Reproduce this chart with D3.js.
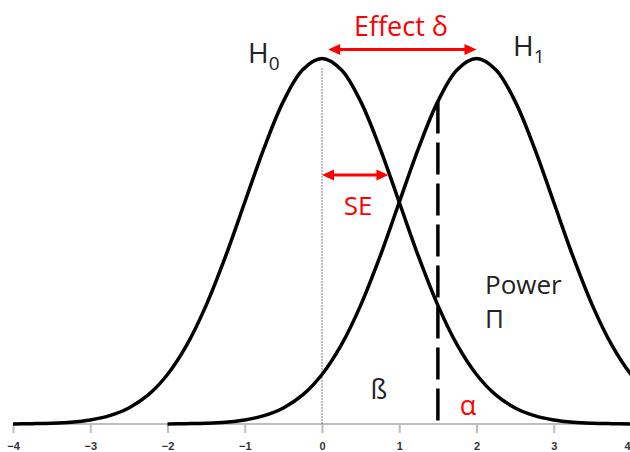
<!DOCTYPE html>
<html>
<head>
<meta charset="utf-8">
<title>Power</title>
<script src="https://d3js.org/d3.v7.min.js"></script>
<style>
  body { margin: 0; background: #fff; }
  svg { display: block; }
</style>
</head>
<body>
<div id="chart"></div>
<script>
// x positions (step 0.25) and curve heights
var xsH0 = [-4, -3.75, -3.5, -3.25, -3, -2.75, -2.5, -2.25, -2, -1.75, -1.5, -1.25, -1, -0.75, -0.5, -0.25,
            0, 0.25, 0.5, 0.75, 1, 1.25, 1.5, 1.75, 2, 2.25, 2.5, 2.75, 3, 3.25, 3.5, 3.75, 4];
var h0 = [0.0001, 0.0004, 0.0009, 0.0020, 0.0044, 0.0091, 0.0175, 0.0317, 0.0540, 0.0863, 0.1295, 0.1826, 0.2420, 0.3011, 0.3521, 0.3867,
          0.3989, 0.3867, 0.3521, 0.3011, 0.2420, 0.1826, 0.1295, 0.0863, 0.0540, 0.0317, 0.0175, 0.0091, 0.0044, 0.0020, 0.0009, 0.0004, 0.0001];
var xsH1 = [-2, -1.75, -1.5, -1.25, -1, -0.75, -0.5, -0.25, 0, 0.25, 0.5, 0.75, 1, 1.25, 1.5, 1.75,
            2, 2.25, 2.5, 2.75, 3, 3.25, 3.5, 3.75, 4, 4.25];
var h1 = [0.0001, 0.0004, 0.0009, 0.0020, 0.0044, 0.0091, 0.0175, 0.0317, 0.0540, 0.0863, 0.1295, 0.1826, 0.2420, 0.3011, 0.3521, 0.3867,
          0.3989, 0.3867, 0.3521, 0.3011, 0.2420, 0.1826, 0.1295, 0.0863, 0.0540, 0.0317];
var ticks = [-4, -3, -2, -1, 0, 1, 2, 3, 4];
var critical = 1.5;   // alpha cut-off
var effect = [0.08, 2];
var se = [0, 0.86];

var width = 630, height = 452;
var svg = d3.select("#chart").append("svg")
  .attr("width", width)
  .attr("height", height);

var x = d3.scaleLinear().domain([-4, 4]).range([13, 631]);
var y = d3.scaleLinear().domain([0, 0.3989]).range([424, 58.5]);

// axis
var xAxis = d3.axisBottom(x).tickValues(ticks).tickSize(9).tickPadding(9);
var gx = svg.append("g")
  .attr("transform", "translate(0,424)")
  .call(xAxis);
gx.select(".domain").attr("stroke", "#bdbdbd").attr("stroke-width", 2)
  .attr("d", "M" + x(-4) + ",0H" + width);
gx.selectAll(".tick line").attr("stroke", "#bdbdbd").attr("stroke-width", 2);
gx.selectAll(".tick text")
  .attr("fill", "#333")
  .style("font-family", "'Liberation Sans', Arial, sans-serif")
  .style("font-weight", "bold")
  .style("font-size", "11px");
// last label sits at the window edge, keep it inside
gx.selectAll(".tick text").filter(function (d) { return d === 4; })
  .attr("text-anchor", "end").attr("x", -1);

// dotted centre line of H0
svg.append("line")
  .attr("x1", x(0)).attr("x2", x(0))
  .attr("y1", y(0.388)).attr("y2", y(0))
  .attr("stroke", "#000").attr("stroke-width", 1)
  .attr("stroke-dasharray", "1,2");

var line = d3.line()
  .x(function (d) { return x(d[0]); })
  .y(function (d) { return y(d[1]); })
  .curve(d3.curveCatmullRom);

svg.append("path")
  .datum(d3.zip(xsH0, h0))
  .attr("d", line)
  .attr("fill", "none").attr("stroke", "#000").attr("stroke-width", 3.5);

svg.append("path")
  .datum(d3.zip(xsH1, h1))
  .attr("d", line)
  .attr("fill", "none").attr("stroke", "#000").attr("stroke-width", 3.5);

// dashed critical value line, up to H1
svg.append("line")
  .attr("x1", x(critical)).attr("x2", x(critical))
  .attr("y1", y(0.3521)).attr("y2", y(0))
  .attr("stroke", "#000").attr("stroke-width", 3.5)
  .attr("stroke-dasharray", "32,9");

// double headed red arrows
function arrow(x1, x2, yy) {
  var red = "#ff0000", hl = 12, hw = 5.5;
  svg.append("line")
    .attr("x1", x1 + hl - 2).attr("x2", x2 - hl + 2)
    .attr("y1", yy).attr("y2", yy)
    .attr("stroke", red).attr("stroke-width", 3);
  svg.append("path")
    .attr("d", "M" + x1 + "," + yy + "L" + (x1 + hl) + "," + (yy - hw) + "L" + (x1 + hl) + "," + (yy + hw) + "Z")
    .attr("fill", red);
  svg.append("path")
    .attr("d", "M" + x2 + "," + yy + "L" + (x2 - hl) + "," + (yy - hw) + "L" + (x2 - hl) + "," + (yy + hw) + "Z")
    .attr("fill", red);
}
arrow(x(effect[0]), x(effect[1]), 49.5);
arrow(x(se[0]), x(se[1]), 175);

// labels
var font = "'Open Sans', 'Noto Sans', sans-serif";
function label(txt, lx, ly, size, color, anchor) {
  return svg.append("text")
    .attr("x", lx).attr("y", ly)
    .attr("text-anchor", anchor || "start")
    .style("font-family", font)
    .style("font-size", size + "px")
    .attr("fill", color)
    .text(txt);
}

label("Effect δ", 401, 36, 27, "#ff0000", "middle");
label("SE", 358, 215, 26, "#ff0000", "middle");
label("α", 468, 415, 27, "#ff0000", "middle");
label("ß", 379, 399, 27, "#222", "middle");
label("Power", 485, 294, 26, "#222");
label("Π", 485, 328, 26, "#222");

var hz = label("H", 248, 63, 28, "#222");
hz.append("tspan").attr("dy", 7).style("font-size", "19px").text("0");
var ho = label("H", 513, 56, 28, "#222");
ho.append("tspan").attr("dy", 7).style("font-size", "19px").text("1");
</script>
</body>
</html>
